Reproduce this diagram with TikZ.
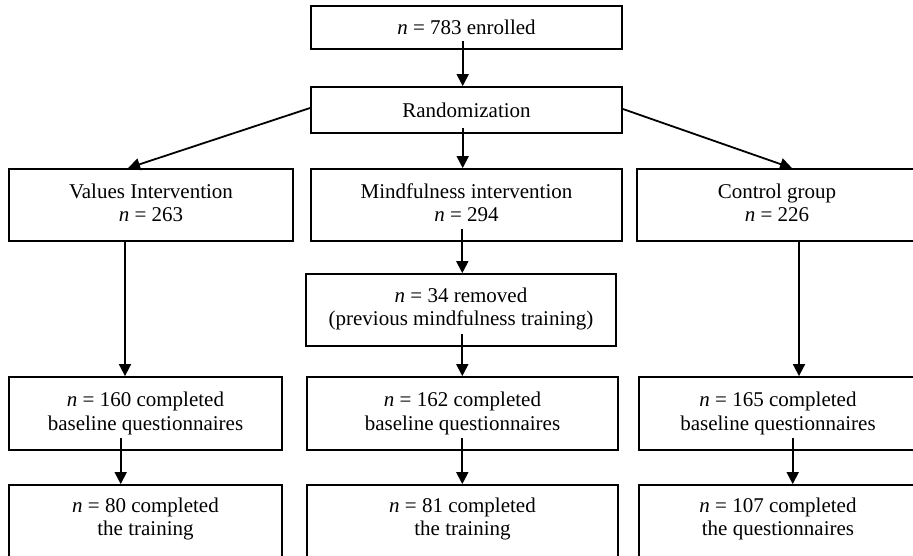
\documentclass[tikz,border=0pt]{standalone}
\usepackage{fontspec}
\setmainfont{Liberation Serif}
\usetikzlibrary{arrows.meta}
\begin{document}
\begin{tikzpicture}[x=1pt,y=-1pt,
  box/.style={draw, line width=1.8pt, rectangle, align=center, inner sep=0pt,
    font=\fontsize{21}{23.5}\selectfont},
  arr/.style={line width=1.8pt, -{Triangle[length=12pt,width=12pt]}}]
\useasboundingbox (0,0) rectangle (913,555);
\clip (0,0) rectangle (913,555);
% row 0
\node[box, minimum width=311pt, minimum height=43pt] (top) at (466.5,27.5) {\textit{n} = 783 enrolled};
\node[box, minimum width=311pt, minimum height=46pt] (rand) at (466.5,110) {Randomization};
% row 1
\node[box, minimum width=284pt, minimum height=72pt, text depth=4.5pt] (val) at (151,205) {Values Intervention\\\textit{n} = 263};
\node[box, minimum width=311pt, minimum height=72pt, text depth=4.5pt] (mind) at (466.5,205) {Mindfulness intervention\\\textit{n} = 294};
\node[box, minimum width=280pt, minimum height=72pt, text depth=4.5pt] (ctrl) at (777,205) {Control group\\\textit{n} = 226};
% removed
\node[box, minimum width=310pt, minimum height=72pt, text depth=7pt] (rem) at (461,310) {\textit{n} = 34 removed\\(previous mindfulness training)};
% baseline row
\node[box, minimum width=273pt, minimum height=73pt, text depth=4.1pt] (vb) at (145.5,413.5) {\textit{n} = 160 completed\\baseline questionnaires};
\node[box, minimum width=311pt, minimum height=73pt, text depth=4.1pt] (mb) at (462.5,413.5) {\textit{n} = 162 completed\\baseline questionnaires};
\node[box, minimum width=278pt, minimum height=73pt, text depth=4.1pt] (cb) at (778,413.5) {\textit{n} = 165 completed\\baseline questionnaires};
% bottom row
\node[box, minimum width=273pt, minimum height=80pt, text depth=17pt] (vt) at (145.5,525) {\textit{n} = 80 completed\\the training};
\node[box, minimum width=311pt, minimum height=80pt, text depth=17pt] (mt) at (462.5,525) {\textit{n} = 81 completed\\the training};
\node[box, minimum width=278pt, minimum height=80pt, text depth=17pt] (ct) at (778,525) {\textit{n} = 107 completed\\the questionnaires};
% arrows
\draw[arr] ([xshift=-3.8pt,yshift=9pt]top.south) -- ([xshift=-3.8pt]rand.north);
\draw[arr] ([yshift=2pt]rand.west) -- ([xshift=-23pt]val.north);
\draw[arr] ([xshift=-3.8pt,yshift=6pt]rand.south) -- ([xshift=-3.8pt]mind.north);
\draw[arr] ([yshift=1pt]rand.east) -- ([xshift=15pt]ctrl.north);
\draw[arr] ([xshift=-26pt]val.south) -- ([xshift=-20.5pt]vb.north);
\draw[arr] ([xshift=-4.2pt,yshift=13pt]mind.south) -- ([xshift=1.3pt]rem.north);
\draw[arr] ([xshift=22pt]ctrl.south) -- ([xshift=21pt]cb.north);
\draw[arr] ([xshift=1.3pt,yshift=13pt]rem.south) -- ([xshift=-0.2pt]mb.north);
\draw[arr] ([xshift=-24.8pt,yshift=13pt]vb.south) -- ([xshift=-24.8pt]vt.north);
\draw[arr] ([xshift=-0.2pt,yshift=13pt]mb.south) -- ([xshift=-0.2pt]mt.north);
\draw[arr] ([xshift=14.7pt,yshift=13pt]cb.south) -- ([xshift=14.7pt]ct.north);
\end{tikzpicture}
\end{document}
